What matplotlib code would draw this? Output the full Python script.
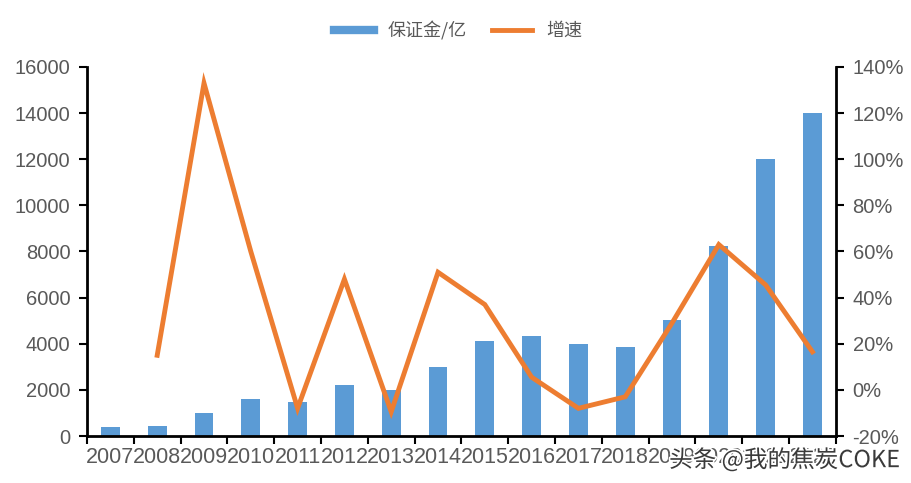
import matplotlib
matplotlib.use("Agg")
import matplotlib.pyplot as plt
import matplotlib.patheffects as pe
from matplotlib.ticker import FuncFormatter
import numpy as np

BLUE = "#5B9BD5"
ORANGE = "#ED7D31"
GREY = "#595959"

plt.rcParams["font.family"] = ["Liberation Sans", "Noto Sans CJK SC", "DejaVu Sans"]

years = ["2007", "2008", "2009", "2010", "2011", "2012", "2013", "2014",
         "2015", "2016", "2017", "2018", "2019", "2020", "2021", "2022"]
margin = [400, 450, 1000, 1600, 1480, 2200, 2000, 3000,
          4100, 4350, 4000, 3870, 5030, 8230, 12000, 14000]
# growth in %, first year has none
growth = [np.nan, 15, 133, 60, -8, 48, -9.5, 51,
          37, 5.5, -8, -3, 29, 63, 45.5, 16.5]

fig = plt.figure(figsize=(9.11, 4.83), dpi=100)
ax = fig.add_axes([0.0955, 0.0973, 0.822, 0.764])
x = np.arange(len(years))

ax.bar(x, margin, width=0.4, color=BLUE, zorder=2)
ax.set_xlim(-0.5, len(years) - 0.5)
ax.set_ylim(0, 16000)
ax.set_yticks(range(0, 16001, 2000))
ax.set_xticks(x)
ax.set_xticklabels(years, fontsize=15.5, color=GREY)
ax.set_xticks(np.arange(-0.5, len(years), 1), minor=True)
ax.tick_params(axis="x", which="major", length=0, pad=8)
ax.tick_params(axis="x", which="minor", length=6, width=1.5, color="black")
ax.tick_params(axis="y", length=6, width=1.5, labelsize=14.5, labelcolor=GREY, pad=6)
ax.spines["top"].set_visible(False)
ax.spines["right"].set_visible(False)
for s in ("left", "bottom"):
    ax.spines[s].set_linewidth(2)

ax2 = ax.twinx()
line, = ax2.plot(x, growth, color=ORANGE, linewidth=3.5, zorder=3,
                 solid_joinstyle="miter")
ax2.set_ylim(-20, 140)
ax2.set_yticks(range(-20, 141, 20))
ax2.yaxis.set_major_formatter(FuncFormatter(lambda v, p: f"{v:.0f}%"))
ax2.tick_params(axis="y", length=6, width=1.5, labelsize=14.5, labelcolor=GREY, pad=6)
for s in ("top", "left", "bottom"):
    ax2.spines[s].set_visible(False)
ax2.spines["right"].set_linewidth(2)

handles = [plt.Line2D([], [], color=BLUE, linewidth=6), line]
fig.legend(handles, ["保证金/亿", "增速"], loc="upper center",
           bbox_to_anchor=(0.503, 0.99), ncol=2, frameon=False,
           labelcolor=GREY, handlelength=2.2, columnspacing=1.4,
           prop={"family": ["Noto Sans CJK SC"], "size": 13})

fig.text(0.988, 0.048, "头条 @我的焦炭COKE", ha="right", va="center",
         fontsize=17, color="#3a3a3a",
         family=["Noto Sans CJK SC", "DejaVu Sans"],
         path_effects=[pe.withStroke(linewidth=2.5, foreground="white")])

fig.savefig("out.png", dpi=100)
